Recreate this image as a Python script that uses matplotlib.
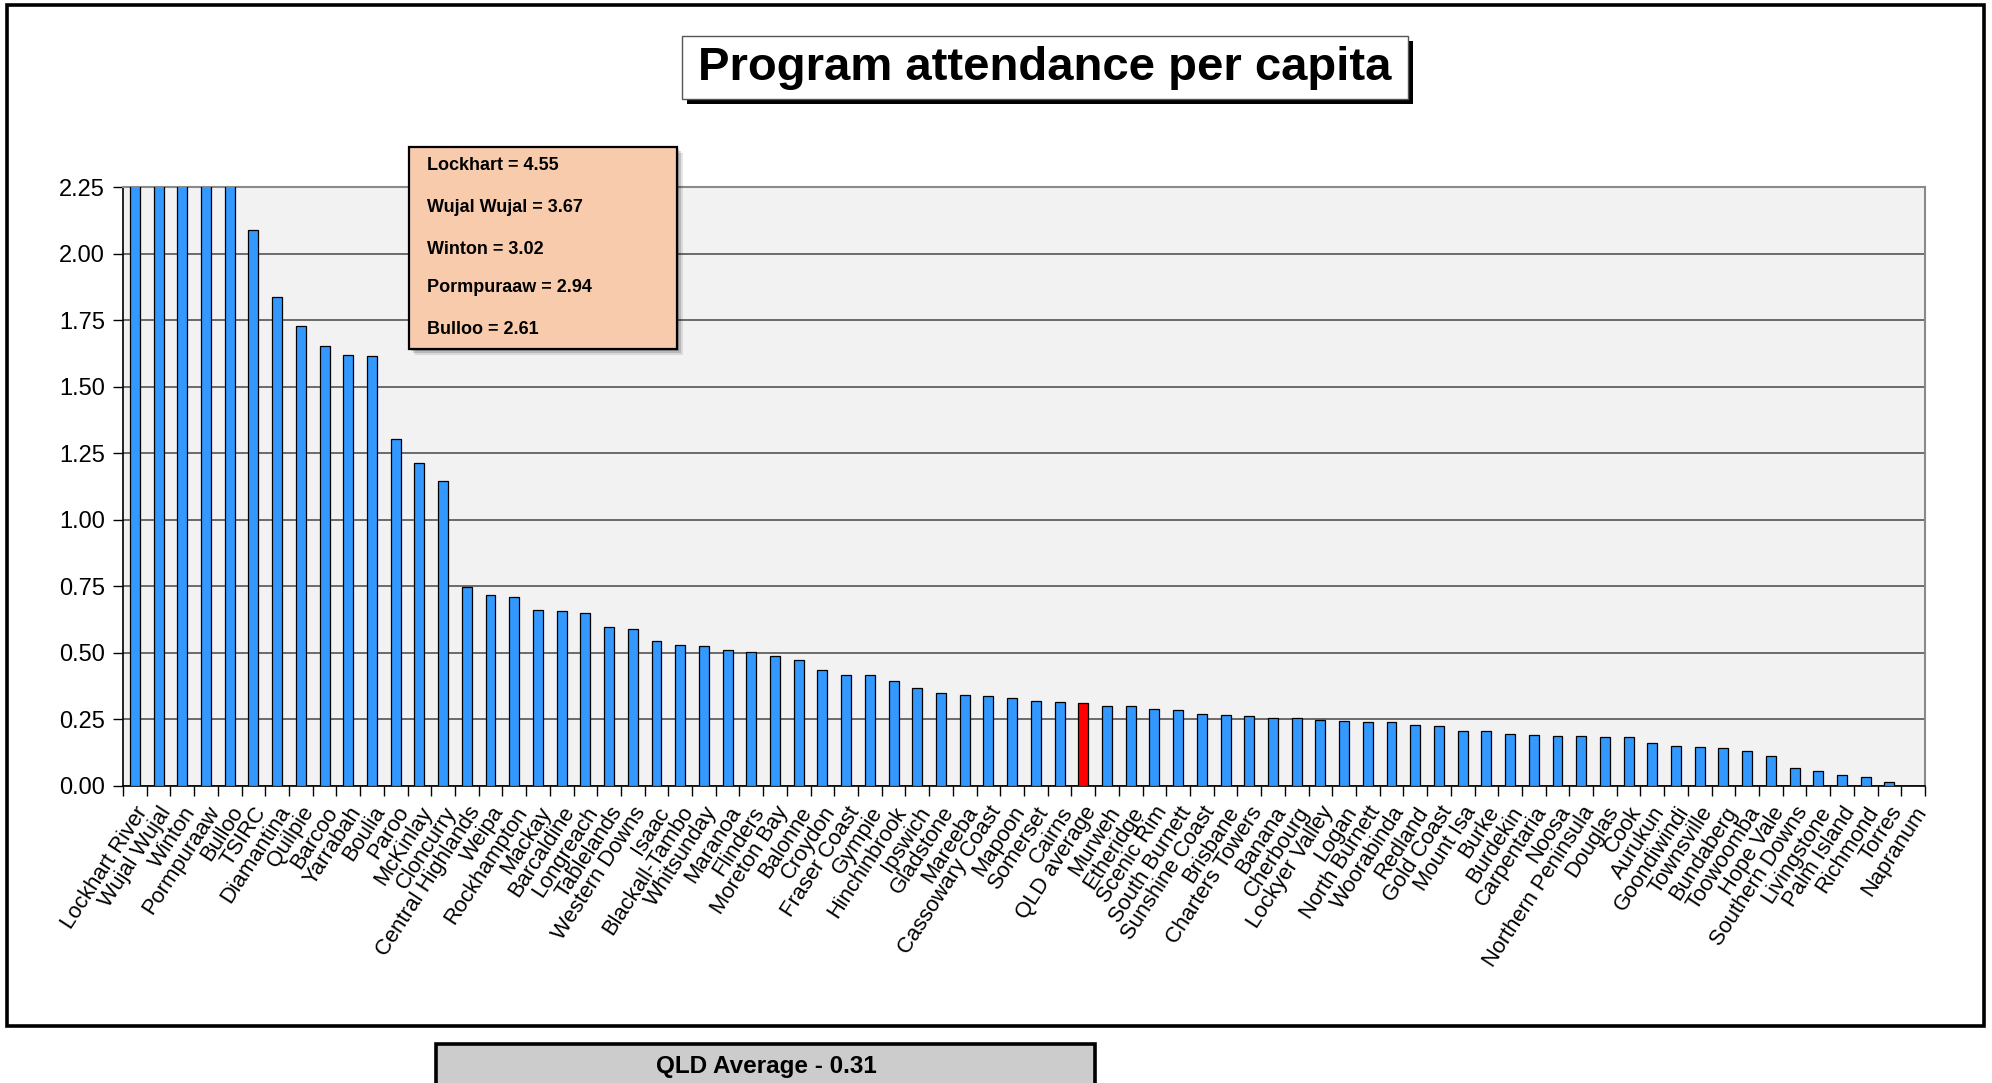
import matplotlib
matplotlib.use("Agg")
import matplotlib.pyplot as plt
from matplotlib.patches import Rectangle
import numpy as np

plt.rcParams["font.family"] = ["Liberation Sans", "DejaVu Sans"]

# councils, sorted by attendance per capita
councils = [
    "Lockhart River", "Wujal Wujal", "Winton", "Pormpuraaw", "Bulloo", "TSIRC",
    "Diamantina", "Quilpie", "Barcoo", "Yarrabah", "Boulia", "Paroo", "McKinlay",
    "Cloncurry", "Central Highlands", "Weipa", "Rockhampton", "Mackay",
    "Barcaldine", "Longreach", "Tablelands", "Western Downs", "Isaac",
    "Blackall-Tambo", "Whitsunday", "Maranoa", "Flinders", "Moreton Bay",
    "Balonne", "Croydon", "Fraser Coast", "Gympie", "Hinchinbrook", "Ipswich",
    "Gladstone", "Mareeba", "Cassowary Coast", "Mapoon", "Somerset", "Cairns",
    "QLD average", "Murweh", "Etheridge", "Scenic Rim", "South Burnett",
    "Sunshine Coast", "Brisbane", "Charters Towers", "Banana", "Cherbourg",
    "Lockyer Valley", "Logan", "North Burnett", "Woorabinda", "Redland",
    "Gold Coast", "Mount Isa", "Burke", "Burdekin", "Carpentaria", "Noosa",
    "Northern Peninsula", "Douglas", "Cook", "Aurukun", "Goondiwindi",
    "Townsville", "Bundaberg", "Toowoomba", "Hope Vale", "Southern Downs",
    "Livingstone", "Palm Island", "Richmond", "Torres", "Napranum",
]

attendance = [
    4.55, 3.67, 3.02, 2.94, 2.61, 2.09,
    1.835, 1.727, 1.651, 1.62, 1.614, 1.304, 1.212,
    1.144, 0.749, 0.716, 0.711, 0.66,
    0.656, 0.65, 0.596, 0.589, 0.543,
    0.531, 0.527, 0.512, 0.504, 0.489,
    0.474, 0.435, 0.418, 0.418, 0.396, 0.369,
    0.351, 0.340, 0.339, 0.331, 0.319, 0.315,
    0.311, 0.302, 0.301, 0.289, 0.284,
    0.270, 0.267, 0.264, 0.257, 0.254,
    0.247, 0.244, 0.242, 0.242, 0.229,
    0.224, 0.205, 0.205, 0.194, 0.192, 0.189,
    0.189, 0.185, 0.185, 0.160, 0.152,
    0.146, 0.142, 0.132, 0.114, 0.066,
    0.057, 0.041, 0.034, 0.015, 0.0,
]

highlight = "QLD average"
callouts = ["Lockhart = 4.55", "Wujal Wujal = 3.67", "Winton = 3.02",
            "Pormpuraaw = 2.94", "Bulloo = 2.61"]
qld_average = 0.31

W, H = 1992, 1083


def fx(px):
    return px / W


def fy(py):
    return 1 - py / H


fig = plt.figure(figsize=(W / 100, H / 100), dpi=100)
fig.patch.set_facecolor("white")

# outer frame
fig.patches.append(Rectangle((fx(7), fy(1026)), fx(1984) - fx(7), fy(5) - fy(1026),
                             transform=fig.transFigure, fill=False,
                             edgecolor="black", linewidth=2.6, zorder=1))

ax = fig.add_axes([fx(123), fy(786), fx(1925) - fx(123), fy(187) - fy(786)])
ax.set_facecolor("#f2f2f2")

x = np.arange(len(councils))
colors = ["#ff0000" if c == highlight else "#3399ff" for c in councils]
ax.bar(x, attendance, width=0.42, color=colors, edgecolor="black",
       linewidth=0.9, zorder=3)

ax.set_xlim(-0.5, len(councils) - 0.5)
ax.set_ylim(0, 2.25)
ax.set_yticks(np.arange(0, 2.26, 0.25))
ax.set_yticklabels([f"{v:.2f}" for v in np.arange(0, 2.26, 0.25)], fontsize=17)
ax.yaxis.grid(True, color="#606060", linewidth=1.3, zorder=1)
ax.set_axisbelow(True)

ax.set_xticks(x)
ax.set_xticklabels(councils, rotation=57, ha="right", rotation_mode="anchor",
                   fontsize=15.8)
ax.tick_params(axis="x", which="major", length=0, pad=12)
ax.set_xticks(np.arange(-0.5, len(councils), 1), minor=True)
ax.tick_params(axis="x", which="minor", length=7, width=1, color="black")
ax.tick_params(axis="y", length=7, width=1, pad=6)

for side in ("top", "right"):
    ax.spines[side].set_color("#8a8a8a")
    ax.spines[side].set_linewidth(1.5)
for side in ("left", "bottom"):
    ax.spines[side].set_color("black")
    ax.spines[side].set_linewidth(1.2)

# title box with drop shadow
tx0, tx1, ty0, ty1 = 682, 1408, 36, 99
fig.patches.append(Rectangle((fx(tx0 + 5), fy(ty1 + 5)), fx(tx1) - fx(tx0), fy(ty0) - fy(ty1),
                             transform=fig.transFigure, facecolor="black",
                             edgecolor="none", zorder=4))
fig.patches.append(Rectangle((fx(tx0), fy(ty1)), fx(tx1) - fx(tx0), fy(ty0) - fy(ty1),
                             transform=fig.transFigure, facecolor="white",
                             edgecolor="#555555", linewidth=1, zorder=5))
fig.text(fx((tx0 + tx1) / 2), fy((ty0 + ty1) / 2), "Program attendance per capita",
         ha="center", va="center", fontsize=34, fontweight="bold", zorder=6)

# callout box for the clipped bars
bx0, bx1, by0, by1 = 409, 677, 147, 349
for off, a in ((6, 0.10), (4, 0.15), (2, 0.2)):
    fig.patches.append(Rectangle((fx(bx0 + off), fy(by1 + off)), fx(bx1) - fx(bx0),
                                 fy(by0) - fy(by1), transform=fig.transFigure,
                                 facecolor="black", alpha=a, edgecolor="none", zorder=7))
fig.patches.append(Rectangle((fx(bx0), fy(by1)), fx(bx1) - fx(bx0), fy(by0) - fy(by1),
                             transform=fig.transFigure, facecolor="#f8cbad",
                             edgecolor="black", linewidth=1.6, zorder=8))
for label, py in zip(callouts, [166, 208, 250, 287, 329]):
    fig.text(fx(427), fy(py), label, ha="left", va="center", fontsize=13,
             fontweight="bold", zorder=9)

# QLD average box at the bottom
qx0, qx1, qy0, qy1 = 436, 1095, 1044, 1092
fig.patches.append(Rectangle((fx(qx0), fy(qy1)), fx(qx1) - fx(qx0), fy(qy0) - fy(qy1),
                             transform=fig.transFigure, facecolor="#cccccc",
                             edgecolor="black", linewidth=2.6, zorder=4))
fig.text(fx(766), fy(1066), f"QLD Average - {qld_average:.2f}", ha="center",
         va="center", fontsize=17.5, fontweight="bold", zorder=5)

fig.savefig("out.png", dpi=100)
